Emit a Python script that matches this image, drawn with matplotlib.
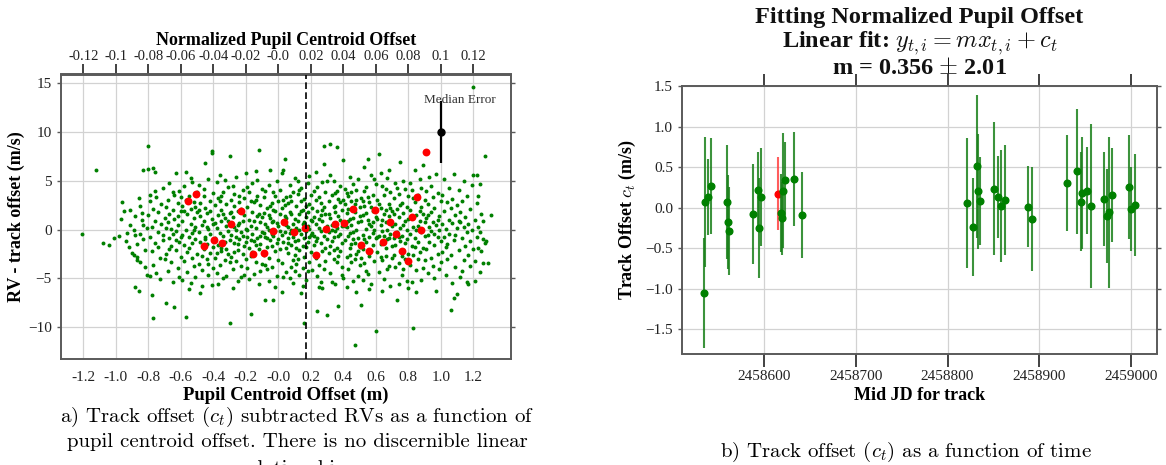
import matplotlib
matplotlib.use("Agg")
import matplotlib.pyplot as plt
from matplotlib.ticker import FormatStrFormatter

plt.rcParams['font.family'] = ['Liberation Serif', 'DejaVu Serif']
plt.rcParams['mathtext.fontset'] = 'cm'

# ---------------- panel a data ----------------
green_pts = [
    (-1.21, -0.45), (-1.12, 6.1), (-1.08, -1.4), (-1.04, -1.6), (-1.01, -0.9),
    (-0.98, -0.6), (-0.96, 2.8), (-0.95, 1.9), (-0.94, -1.2), (-0.93, -0.3), (-0.92, -1.8), (-0.91, 2.0),
    (-0.91, 0.5), (-0.97, 1.1), (-0.9, -2.4),
    (-0.89, 0.0), (-0.88, -0.5), (-0.88, -5.9), (-0.86, -6.3), (-0.89, -2.6), (-0.87, -2.8), (-0.87, -3.1),
    (-0.85, -3.3), (-0.85, 2.4), (-0.84, 1.7), (-0.84, 1.0), (-0.83, 0.5), (-0.83, -1.0), (-0.83, 6.1),
    (-0.82, -2.1), (-0.82, -3.8), (-0.81, -4.6), (-0.86, 3.2), (-0.88, 1.4), (-0.85, -0.4), (-0.81, 0.2),
    (-0.87, -1.5),
    (-0.8, 8.6), (-0.8, 6.2), (-0.79, 3.6), (-0.79, 2.9), (-0.78, -6.7), (-0.77, -9.1), (-0.77, 6.3),
    (-0.76, 5.9), (-0.8, 1.5), (-0.79, -0.8), (-0.78, 0.3), (-0.78, -2.2), (-0.77, 2.1), (-0.77, -3.6),
    (-0.76, -1.4), (-0.76, 0.9), (-0.75, -4.4), (-0.75, 3.3), (-0.74, -0.2), (-0.74, 1.8), (-0.73, -2.9),
    (-0.73, -5.1), (-0.72, 0.6), (-0.72, 2.6), (-0.71, -1.1), (-0.71, 4.3), (-0.7, -3.0), (-0.7, 1.2),
    (-0.79, -4.7), (-0.74, -1.8), (-0.76, 4.0), (-0.71, -0.5),
    (-0.69, -7.5), (-0.69, 2.3), (-0.69, -2.5), (-0.68, 0.8), (-0.68, 3.0), (-0.68, -4.2), (-0.67, -0.9),
    (-0.67, 1.6), (-0.67, 4.8), (-0.66, -1.7), (-0.66, 0.1), (-0.66, -3.3), (-0.65, 2.0), (-0.65, -5.4),
    (-0.65, -0.4), (-0.64, -7.9), (-0.64, 3.6), (-0.64, 1.1), (-0.63, 5.8), (-0.63, -2.1), (-0.63, -0.1),
    (-0.62, 2.7), (-0.62, -3.9), (-0.62, 0.5), (-0.61, -1.3), (-0.61, 4.0), (-0.61, -4.8), (-0.6, 1.9),
    (-0.6, -0.7), (-0.6, -2.8), (-0.69, 0.2), (-0.67, -2.0), (-0.65, 3.9), (-0.63, -1.1), (-0.62, 1.4),
    (-0.6, 3.3),
    (-0.59, -5.2), (-0.59, 0.9), (-0.59, 2.4), (-0.58, -1.6), (-0.58, 4.5), (-0.58, -3.2), (-0.57, -8.9),
    (-0.57, 5.9), (-0.57, 0.0), (-0.56, -2.3), (-0.56, 1.6), (-0.56, -4.3), (-0.55, 3.4), (-0.55, -0.8),
    (-0.55, -1.9), (-0.54, 2.1), (-0.54, -5.5), (-0.54, 0.6), (-0.53, -2.9), (-0.53, 4.9), (-0.53, -0.3),
    (-0.52, 1.2), (-0.52, -3.7), (-0.52, 2.8), (-0.51, -1.0), (-0.51, 0.3), (-0.51, -4.9), (-0.5, 3.9),
    (-0.5, -2.5), (-0.5, 1.8), (-0.59, -0.5), (-0.57, 3.0), (-0.55, -6.1), (-0.54, 5.3), (-0.53, -1.4),
    (-0.52, 0.0), (-0.51, 2.3), (-0.58, 1.9),
    (-0.49, -0.2), (-0.49, 4.6), (-0.49, -3.5), (-0.48, 1.4), (-0.48, -1.3), (-0.48, 2.7), (-0.47, -4.1),
    (-0.47, 0.5), (-0.47, -5.8), (-0.46, 3.5), (-0.46, -2.0), (-0.46, 0.9), (-0.45, 6.8), (-0.45, -0.7),
    (-0.45, 2.2), (-0.44, -3.0), (-0.44, 1.7), (-0.44, -1.5), (-0.43, 5.2), (-0.43, -4.6), (-0.43, 0.1),
    (-0.42, 2.9), (-0.42, -2.4), (-0.42, -0.4), (-0.41, 8.1), (-0.41, 7.9), (-0.41, 1.1), (-0.41, -5.7),
    (-0.4, 3.8), (-0.4, -1.8), (-0.4, 0.6), (-0.49, 2.0), (-0.47, -2.7), (-0.46, 4.2), (-0.44, 0.3),
    (-0.43, -3.5), (-0.42, 1.9), (-0.4, -3.9), (-0.48, -6.5), (-0.45, -1.0),
    (-0.39, 2.5), (-0.39, -0.9), (-0.39, -2.9), (-0.38, 4.9), (-0.38, 0.2), (-0.38, -4.4), (-0.37, 1.5),
    (-0.37, -1.6), (-0.37, 3.2), (-0.36, -0.3), (-0.36, -3.6), (-0.36, 5.6), (-0.35, 0.9), (-0.35, -2.2),
    (-0.35, 2.0), (-0.34, -5.0), (-0.34, -0.6), (-0.34, 3.9), (-0.33, 1.2), (-0.33, -1.3), (-0.33, -3.1),
    (-0.32, 0.4), (-0.32, 2.6), (-0.32, -4.7), (-0.31, -0.1), (-0.31, 4.4), (-0.31, -2.5), (-0.3, 7.5),
    (-0.3, 1.7), (-0.3, -9.6), (-0.3, -1.1), (-0.39, 0.7), (-0.37, -5.6), (-0.36, 2.9), (-0.35, -1.9),
    (-0.34, 1.6), (-0.33, 5.1), (-0.32, -2.0), (-0.31, 0.9), (-0.38, -2.4), (-0.35, 3.5), (-0.3, -3.3),
    (-0.29, 3.0), (-0.29, -0.5), (-0.29, -2.8), (-0.28, 1.3), (-0.28, -4.0), (-0.28, 4.5), (-0.27, -1.4),
    (-0.27, 0.3), (-0.27, 2.4), (-0.26, -3.2), (-0.26, -0.8), (-0.26, 5.4), (-0.25, 1.9), (-0.25, -2.1),
    (-0.25, -5.3), (-0.24, 0.7), (-0.24, 3.5), (-0.24, -1.0), (-0.23, -3.7), (-0.23, 2.1), (-0.23, -0.2),
    (-0.22, 4.1), (-0.22, -2.5), (-0.22, 0.9), (-0.21, -4.6), (-0.21, 1.5), (-0.21, -1.7), (-0.2, 5.8),
    (-0.2, 0.1), (-0.2, -3.0), (-0.29, 1.8), (-0.28, -6.0), (-0.27, 3.7), (-0.26, 0.0), (-0.25, -1.5),
    (-0.24, 2.8), (-0.23, -4.9), (-0.22, -0.6), (-0.21, 3.2), (-0.27, -2.3), (-0.25, 0.5), (-0.2, -1.3),
    (-0.19, 2.3), (-0.19, -0.7), (-0.19, -3.9), (-0.18, 1.0), (-0.18, 3.9), (-0.18, -1.9), (-0.17, -8.6),
    (-0.17, 0.4), (-0.17, -2.7), (-0.16, 4.8), (-0.16, -0.4), (-0.16, 1.8), (-0.15, -4.5), (-0.15, 2.8),
    (-0.15, -1.2), (-0.14, 6.0), (-0.14, 0.2), (-0.14, -3.3), (-0.13, 1.4), (-0.13, -0.9), (-0.13, 3.4),
    (-0.12, 8.2), (-0.12, -2.0), (-0.12, -5.6), (-0.11, 0.8), (-0.11, 2.5), (-0.11, -1.5), (-0.1, 4.2),
    (-0.1, -0.2), (-0.1, -3.5), (-0.19, 0.0), (-0.18, -5.1), (-0.17, 2.9), (-0.16, -2.3), (-0.15, 0.9),
    (-0.14, -1.6), (-0.13, 5.1), (-0.12, 1.6), (-0.11, -4.2), (-0.1, 1.3), (-0.17, -1.1), (-0.14, 3.0),
    (-0.11, -0.6), (-0.19, 4.4),
    (-0.09, -2.6), (-0.09, 1.7), (-0.09, 3.3), (-0.08, -7.2), (-0.08, -0.8), (-0.08, 0.6), (-0.07, 2.2),
    (-0.07, -1.8), (-0.07, -4.0), (-0.06, 4.6), (-0.06, 0.0), (-0.06, -2.9), (-0.05, 6.1), (-0.05, 1.2),
    (-0.05, -1.1), (-0.04, -3.8), (-0.04, 2.7), (-0.04, -0.4), (-0.03, -7.2), (-0.03, 0.9), (-0.03, 3.9),
    (-0.02, -2.2), (-0.02, -0.1), (-0.02, 1.9), (-0.01, -4.7), (-0.01, 5.0), (-0.01, -1.4), (0.0, 0.4),
    (0.0, 2.9), (0.0, -3.1), (-0.09, -0.3), (-0.08, 4.0), (-0.07, 0.3), (-0.06, -5.3), (-0.05, 2.4),
    (-0.04, -1.7), (-0.03, -0.6), (-0.02, 3.5), (-0.01, 0.7), (0.0, -1.0), (-0.08, -3.6), (-0.06, 1.5),
    (-0.04, 0.8), (-0.02, -5.9), (-0.07, -0.9), (-0.03, 2.0),
    (0.01, -2.0), (0.01, 1.6), (0.01, 4.1), (0.02, 5.8), (0.02, -0.5), (0.02, -3.4), (0.03, 6.1),
    (0.03, 0.9), (0.03, -1.3), (0.04, 7.2), (0.04, 2.5), (0.04, -0.2), (0.05, -4.3), (0.05, 1.2),
    (0.05, 3.3), (0.06, -2.4), (0.06, 0.3), (0.06, -0.9), (0.07, 4.6), (0.07, -5.0), (0.07, 1.8),
    (0.08, -1.6), (0.08, 2.9), (0.08, 0.0), (0.09, -3.1), (0.09, 3.9), (0.09, -0.7), (0.1, 1.1),
    (0.1, -2.6), (0.1, 5.3), (0.01, -0.1), (0.02, 2.2), (0.03, -4.9), (0.04, 1.4), (0.05, -1.9),
    (0.06, 2.7), (0.07, -0.3), (0.08, -3.8), (0.09, 0.6), (0.1, -1.2), (0.02, -6.4), (0.05, 0.5),
    (0.07, 3.5), (0.09, -5.5), (0.03, 3.0), (0.06, -1.4), (0.08, 1.6), (0.1, -4.2),
    (0.11, 0.2), (0.11, 2.4), (0.11, -3.5), (0.12, -1.1), (0.12, 3.7), (0.12, 0.9), (0.13, -2.1),
    (0.13, 1.6), (0.13, -4.6), (0.14, 4.3), (0.14, -0.4), (0.14, -6.5), (0.15, 2.0), (0.15, -1.7),
    (0.15, 0.6), (0.16, -9.6), (0.16, 3.1), (0.16, -2.8), (0.17, -0.1), (0.17, 1.3), (0.17, -5.2),
    (0.18, 4.8), (0.18, -1.3), (0.18, 0.4), (0.19, -3.3), (0.19, 2.6), (0.19, -0.8), (0.2, 1.0),
    (0.2, -2.3), (0.2, 3.6), (0.11, -1.9), (0.12, 5.0), (0.13, 0.0), (0.14, 1.9), (0.15, -3.9),
    (0.16, 0.8), (0.17, 2.4), (0.18, -4.2), (0.19, 0.1), (0.2, -0.5), (0.12, -3.0), (0.14, 2.9),
    (0.16, -0.9), (0.18, 1.8), (0.13, 4.1), (0.15, -5.8), (0.17, -1.8), (0.19, 5.5),
    (0.21, -0.3), (0.21, 2.2), (0.21, -4.1), (0.22, 1.3), (0.22, -1.6), (0.22, 4.0), (0.23, -2.9),
    (0.23, 0.6), (0.23, 5.9), (0.24, -8.3), (0.24, 1.9), (0.24, -0.9), (0.25, 3.3), (0.25, -3.6),
    (0.25, 0.2), (0.26, -1.4), (0.26, 2.7), (0.26, -5.4), (0.27, 4.9), (0.27, 0.9), (0.27, -2.2),
    (0.28, 8.6), (0.28, 6.7), (0.28, -0.6), (0.29, 1.6), (0.29, -3.2), (0.29, 3.9), (0.3, -8.7),
    (0.3, -1.0), (0.3, 0.4), (0.21, 0.9), (0.22, -2.6), (0.23, 3.0), (0.24, -4.7), (0.25, 1.1),
    (0.26, -0.1), (0.27, -6.0), (0.28, 2.3), (0.29, -1.9), (0.3, 5.0), (0.22, -0.6), (0.24, 4.4),
    (0.26, 1.5), (0.28, -4.0), (0.23, -1.2), (0.25, -5.9), (0.27, 2.0), (0.29, 0.0),
    (0.31, 2.9), (0.31, -2.4), (0.31, -0.2), (0.32, 8.8), (0.32, 1.2), (0.32, -4.4), (0.33, -1.2),
    (0.33, 3.6), (0.33, 0.5), (0.34, -3.0), (0.34, 5.0), (0.34, -0.8), (0.35, 1.8), (0.35, -5.6),
    (0.35, 2.4), (0.36, 8.5), (0.36, -1.9), (0.36, 0.2), (0.37, -7.8), (0.37, 3.1), (0.37, -2.7),
    (0.38, 1.0), (0.38, -0.4), (0.38, 4.5), (0.39, -3.8), (0.39, 2.0), (0.39, -1.4), (0.4, 7.1),
    (0.4, 0.7), (0.4, -5.0), (0.31, 1.6), (0.32, -1.7), (0.33, -5.4), (0.34, 2.3), (0.35, -0.1),
    (0.36, 4.0), (0.37, 1.4), (0.38, -2.2), (0.39, 0.4), (0.4, 3.0), (0.32, 5.6), (0.34, -2.1),
    (0.36, -3.3), (0.38, 2.8), (0.33, 0.0), (0.35, 3.8), (0.37, -0.6), (0.39, -4.6),
    (0.41, -1.1), (0.41, 2.6), (0.41, 4.2), (0.42, -2.8), (0.42, 0.3), (0.42, 1.7), (0.43, -0.6),
    (0.43, 3.4), (0.43, -4.0), (0.44, 1.1), (0.44, -1.9), (0.44, 5.4), (0.45, -3.3), (0.45, 0.5),
    (0.45, 2.9), (0.46, -0.2), (0.46, 4.7), (0.46, -5.3), (0.47, -11.8), (0.47, 1.8), (0.47, -1.4),
    (0.48, 3.0), (0.48, -2.5), (0.48, 0.0), (0.49, 5.2), (0.49, -0.9), (0.49, -4.7), (0.5, 1.4),
    (0.5, -1.8), (0.5, 2.3), (0.41, 0.4), (0.42, -5.9), (0.43, 2.1), (0.44, -0.3), (0.45, 3.9),
    (0.46, 1.2), (0.47, -3.0), (0.48, 4.1), (0.49, 0.8), (0.5, -3.6), (0.42, 3.8), (0.44, -2.6),
    (0.46, -1.0), (0.48, -6.4), (0.43, 0.9), (0.45, -1.5), (0.47, 2.6), (0.49, -2.2),
    (0.51, -7.7), (0.51, 0.9), (0.51, 3.2), (0.52, -2.0), (0.52, 1.5), (0.52, -0.5), (0.53, 6.4),
    (0.53, -3.4), (0.53, 2.4), (0.54, 0.1), (0.54, 4.4), (0.54, -1.3), (0.55, 7.2), (0.55, -4.5),
    (0.55, 1.0), (0.56, -0.8), (0.56, 2.8), (0.56, -2.7), (0.57, 5.6), (0.57, 0.4), (0.57, -5.6),
    (0.58, 1.9), (0.58, -1.6), (0.58, 3.6), (0.59, -3.2), (0.59, 0.0), (0.59, 2.1), (0.6, -10.4),
    (0.6, -0.9), (0.6, 4.7), (0.51, -2.9), (0.52, 2.9), (0.53, -1.0), (0.54, -4.2), (0.55, 3.3),
    (0.56, 0.6), (0.57, -2.2), (0.58, -0.3), (0.59, 5.2), (0.6, 1.3), (0.52, -5.2), (0.54, 1.7),
    (0.56, -6.1), (0.58, 0.8), (0.53, 4.0), (0.57, 2.3),
    (0.61, -2.3), (0.61, 1.1), (0.61, 3.0), (0.62, 7.8), (0.62, -0.6), (0.62, -4.3), (0.63, 2.2),
    (0.63, -1.5), (0.63, 0.5), (0.64, 4.5), (0.64, -3.1), (0.64, -0.1), (0.65, 1.6), (0.65, -5.1),
    (0.65, 3.6), (0.66, -1.9), (0.66, 0.8), (0.66, -2.7), (0.67, 5.3), (0.67, 0.0), (0.67, -1.0),
    (0.68, 2.6), (0.68, -3.7), (0.68, 1.4), (0.69, -0.4), (0.69, 3.9), (0.69, -5.8), (0.7, 1.9),
    (0.7, -1.7), (0.7, 0.4), (0.61, -0.8), (0.62, 2.6), (0.63, -2.8), (0.64, 1.0), (0.65, -0.6),
    (0.66, 4.2), (0.67, -4.0), (0.68, -0.9), (0.69, 2.2), (0.7, -2.9), (0.63, 5.8), (0.66, 2.0),
    (0.68, 6.1), (0.64, -6.3),
    (0.71, 3.2), (0.71, -0.9), (0.71, -2.6), (0.72, 0.6), (0.72, 4.8), (0.72, -1.6), (0.73, -7.2),
    (0.73, 2.1), (0.73, -0.2), (0.74, -3.4), (0.74, 1.3), (0.74, 3.7), (0.75, 6.9), (0.75, -1.2),
    (0.75, 0.2), (0.76, -4.6), (0.76, 2.7), (0.76, -0.6), (0.77, 1.7), (0.77, -2.1), (0.77, 5.0),
    (0.78, -3.0), (0.78, 0.9), (0.78, -1.4), (0.79, 2.3), (0.79, -5.3), (0.79, 0.0), (0.8, 3.5),
    (0.8, -2.5), (0.8, 1.1), (0.71, 1.6), (0.72, -3.8), (0.73, 4.3), (0.74, -0.8), (0.75, 2.5),
    (0.76, -2.7), (0.77, 0.5), (0.78, 4.2), (0.79, -1.0), (0.8, -6.0), (0.74, -5.6), (0.77, -4.0),
    (0.81, -0.4), (0.81, 2.0), (0.81, -3.6), (0.82, 1.2), (0.82, -1.7), (0.82, 4.1), (0.83, -10.1),
    (0.83, 0.3), (0.83, -2.6), (0.84, 6.1), (0.84, -0.9), (0.84, 2.8), (0.85, -6.4), (0.85, 1.5),
    (0.85, -4.1), (0.86, 3.6), (0.86, -1.3), (0.86, 0.4), (0.87, -2.3), (0.87, 5.2), (0.87, 0.9),
    (0.88, -0.2), (0.88, 2.3), (0.88, -5.2), (0.89, 6.6), (0.89, 1.6), (0.89, -1.9), (0.9, -0.6),
    (0.9, 3.0), (0.9, -3.1), (0.81, 4.8), (0.82, -5.4), (0.83, 3.2), (0.84, -1.8), (0.85, 0.0),
    (0.86, -3.0), (0.87, 1.9), (0.88, 4.3), (0.89, -3.9), (0.9, 0.8),
    (0.91, 1.2), (0.91, -2.0), (0.91, 4.0), (0.92, -0.5), (0.92, 2.6), (0.92, -4.4), (0.93, 0.3),
    (0.93, -1.3), (0.93, 5.4), (0.94, -2.9), (0.94, 1.8), (0.94, -0.1), (0.95, 3.3), (0.95, -3.7),
    (0.95, 0.8), (0.96, -1.6), (0.96, 2.2), (0.96, -5.0), (0.97, 5.7), (0.97, -6.3), (0.97, 0.5),
    (0.98, -0.8), (0.98, 3.8), (0.98, -2.5), (0.99, 1.4), (0.99, -4.0), (0.99, 0.0), (1.0, 2.9),
    (1.0, -1.2), (1.0, -3.3), (0.92, 1.5), (0.94, 4.5), (0.96, -0.4), (0.98, 1.0),
    (1.01, 0.6), (1.01, -2.3), (1.01, 3.6), (1.02, 5.2), (1.02, -0.7), (1.02, 1.9), (1.03, -4.6),
    (1.03, 0.1), (1.04, 2.8), (1.04, -1.5), (1.04, -3.0), (1.05, 1.0), (1.05, 4.3), (1.05, -0.4),
    (1.06, -8.2), (1.06, 2.2), (1.06, -2.6), (1.07, 0.7), (1.07, -5.5), (1.07, 3.1), (1.08, -7.0),
    (1.08, 5.7), (1.08, -1.1), (1.09, 1.5), (1.09, -3.8), (1.1, 0.2), (1.1, -6.6), (1.1, 2.5),
    (1.03, -1.8), (1.09, -0.5),
    (1.11, 0.9), (1.11, -2.1), (1.11, 4.1), (1.12, 0.8), (1.12, -4.9), (1.12, 1.8), (1.13, -0.9),
    (1.13, 2.9), (1.14, -3.1), (1.14, 0.3), (1.14, 5.0), (1.15, -1.7), (1.15, 1.3), (1.16, -5.4),
    (1.16, -0.2), (1.16, 3.5), (1.17, -2.6), (1.17, 0.6), (1.18, 2.1), (1.18, -3.7), (1.18, -1.2),
    (1.19, 4.6), (1.19, 0.0), (1.2, 5.6), (1.2, -2.0), (1.2, 14.6), (1.13, -4.2), (1.17, -5.6),
    (1.21, 1.0), (1.21, -3.2), (1.21, -5.3), (1.22, 5.6), (1.22, -0.8), (1.22, 2.7), (1.23, 3.5),
    (1.23, -1.9), (1.23, 0.3), (1.24, 4.7), (1.24, -4.3), (1.24, -0.2), (1.25, -2.2), (1.25, 1.6),
    (1.26, 0.9), (1.26, -1.0), (1.26, -3.4), (1.27, 7.6), (1.27, -1.4), (1.28, -1.2), (1.29, -3.4),
    (1.31, 1.5),
]

red_x = [-0.507, -0.555, -0.227, -0.288, 0.036, -0.031, 0.099, 0.165, 0.293, 0.351, 0.407, 0.46,
         0.597, 0.69, 0.825, 0.852, 0.909, 0.725, 0.881,
         -0.455, -0.398, -0.346, -0.156, -0.089, 0.234, 0.51, 0.558, 0.643, 0.762, 0.798]
red_y = [3.65, 2.9, 1.88, 0.55, 0.82, -0.1, -0.27, 0.14, 0.1, 0.61, 0.72, 2.15,
         2.01, 0.75, 1.26, 3.38, 7.99, -0.44, 0.0,
         -1.67, -1.06, -1.37, -2.49, -2.42, -2.56, -1.57, -2.18, -1.3, -2.15, -3.17]

median_x = [1.0]
median_y = [10.0]
median_err = [3.2]
median_label = 'Median Error'
split_x = 0.17

bottom_ticks = [-1.2, -1.0, -0.8, -0.6, -0.4, -0.2, 0.0, 0.2, 0.4, 0.6, 0.8, 1.0, 1.2]
bottom_labels = ['-1.2', '-1.0', '-0.8', '-0.6', '-0.4', '-0.2', '-0.0', '0.2', '0.4', '0.6',
                 '0.8', '1.0', '1.2']
top_ticks = [-0.12, -0.10, -0.08, -0.06, -0.04, -0.02, 0.0, 0.02, 0.04, 0.06, 0.08, 0.10, 0.12]
top_labels = ['-0.12', '-0.1', '-0.08', '-0.06', '-0.04', '-0.02', '-0.0', '0.02', '0.04', '0.06',
              '0.08', '0.1', '0.12']
a_yticks = [-10, -5, 0, 5, 10, 15]

# ---------------- panel b data ----------------
track_jd = [2458534.3, 2458536.0, 2458538.6, 2458541.9,
            2458560.0, 2458561.1, 2458562.2,
            2458587.7, 2458593.1, 2458594.5, 2458596.7,
            2458614.9,
            2458618.2, 2458619.8, 2458621.0, 2458622.9, 2458633.0, 2458641.4,
            2458821.3, 2458828.1, 2458832.5, 2458833.6, 2458835.8, 2458850.4, 2458855.4, 2458858.3,
            2458862.7,
            2458887.7, 2458892.4, 2458930.2, 2458941.1, 2458945.1, 2458946.9, 2458952.4, 2458956.4,
            2458970.2, 2458973.5, 2458976.3, 2458978.9, 2458997.3, 2459000.4, 2459004.0]
track_c = [-1.05, 0.07, 0.13, 0.27,
           0.07, -0.18, -0.29,
           -0.08, 0.22, -0.25, 0.13,
           0.17,
           -0.07, -0.13, 0.21, 0.34, 0.35, -0.09,
           0.06, -0.24, 0.51, 0.20, 0.08, 0.23, 0.13, 0.02,
           0.09,
           0.01, -0.14, 0.30, 0.45, 0.07, 0.18, 0.21, 0.02,
           0.10, -0.10, -0.06, 0.15, 0.25, -0.02, 0.03]
track_err = [0.68, 0.80, 0.47, 0.59,
             0.70, 0.58, 0.54,
             0.62, 0.47, 0.62, 0.60,
             0.45,
             0.48, 0.45, 0.71, 0.47, 0.58, 0.53,
             0.80, 0.60, 0.88, 0.71, 0.54, 0.82, 0.51, 0.69,
             0.68,
             0.50, 0.64, 0.59, 0.77, 0.61, 0.69, 0.54, 1.01,
             0.58, 0.58, 0.93, 0.58, 0.64, 0.52, 0.63]
red_track = 11
b_xticks = [2458600, 2458700, 2458800, 2458900, 2459000]
b_yticks = [-1.5, -1.0, -0.5, 0.0, 0.5, 1.0, 1.5]

# ---------------- figure ----------------
W, H = 1166, 465
fig = plt.figure(figsize=(W / 100, H / 100), dpi=100)
fig.patch.set_facecolor('white')

spine_c = '#5a5a5a'
grid_c = '#d2d2d2'
txt_c = '#222222'

# ---- panel a ----
axA = fig.add_axes([61 / W, 1 - 358.5 / H, 450 / W, 284 / H])
gx = [p[0] for p in green_pts]
gy = [p[1] for p in green_pts]
axA.scatter(gx, gy, s=8, color='green', linewidths=0, zorder=3)
axA.scatter(red_x, red_y, s=32, color='red', linewidths=0, zorder=4)
axA.errorbar(median_x, median_y, yerr=median_err, fmt='o', color='black', ms=5,
             elinewidth=1.6, capsize=0, zorder=6)
axA.text(1.12, 13.3, median_label, ha='center', va='center', fontsize=9.5, color='#333333', zorder=6)
axA.axvline(split_x, color='black', ls=(0, (4, 2)), lw=1.2, zorder=5)
axA.set_xlim(-1.337, 1.432)
axA.set_ylim(-13.2, 15.9)
axA.set_xticks(bottom_ticks, bottom_labels)
axA.set_yticks(a_yticks)
axA.grid(True, color=grid_c, lw=0.9)
axA.set_axisbelow(True)
for sp in axA.spines.values():
    sp.set_color(spine_c)
    sp.set_linewidth(1.4)
axA.tick_params(axis='x', length=0, labelsize=11, pad=9, labelcolor=txt_c)
axA.tick_params(axis='y', left=True, right=True, direction='out', length=3, width=1,
                color=spine_c, labelsize=11, labelcolor=txt_c)
axA.set_xlabel('Pupil Centroid Offset (m)', fontsize=13.5, fontweight='bold', labelpad=2)
axA.set_ylabel('RV - track offset (m/s)', fontsize=13, fontweight='bold', labelpad=2)

sec = axA.secondary_xaxis('top', functions=(lambda v: v / 10.0, lambda v: v * 10.0))
sec.set_xticks(top_ticks, top_labels)
sec.tick_params(axis='x', direction='out', length=7, width=1.3, color='#333333',
                labelsize=10.5, pad=1, labelcolor=txt_c)
sec.spines['top'].set_color(spine_c)
sec.spines['top'].set_linewidth(1.4)
sec.set_xlabel('Normalized Pupil Centroid Offset', fontsize=13, fontweight='bold', labelpad=4)

# ---- panel b ----
axB = fig.add_axes([682 / W, 1 - 353.5 / H, 475 / W, 267.5 / H])
g_idx = [i for i in range(len(track_jd)) if i != red_track]
axB.errorbar([track_jd[i] for i in g_idx], [track_c[i] for i in g_idx],
             yerr=[track_err[i] for i in g_idx], fmt='o', color='green', ms=4.8,
             ecolor=(0.1, 0.5, 0.1, 0.85), elinewidth=1.5, capsize=0, zorder=3)
axB.errorbar([track_jd[red_track]], [track_c[red_track]], yerr=[track_err[red_track]], fmt='o',
             color='red', ms=4.8, ecolor=(1.0, 0.25, 0.25, 0.85), elinewidth=1.5, capsize=0, zorder=2)
axB.set_xlim(2458510.6, 2459028.3)
axB.set_ylim(-1.8, 1.5)
axB.set_xticks(b_xticks)
axB.xaxis.set_major_formatter(FormatStrFormatter('%d'))
axB.set_yticks(b_yticks)
axB.grid(True, color=grid_c, lw=0.9)
axB.set_axisbelow(True)
for sp in axB.spines.values():
    sp.set_color(spine_c)
    sp.set_linewidth(1.4)
axB.tick_params(axis='x', top=True, bottom=True, direction='out', length=9, width=1.3,
                color='#333333', labelsize=11, labelcolor=txt_c, pad=3)
axB.tick_params(axis='y', left=True, right=True, direction='out', length=3, width=1,
                color=spine_c, labelsize=11, labelcolor=txt_c)
axB.set_xlabel('Mid JD for track', fontsize=13, fontweight='bold', labelpad=3)
axB.set_ylabel('Track Offset $c_t$ (m/s)', fontsize=13, fontweight='bold', labelpad=5)

cx = (682 + 1157) / 2 / W
title_kw = dict(ha='center', va='center', fontsize=17.5, fontweight='bold', color='#111111')
fig.text(cx, 1 - 17 / H, 'Fitting Normalized Pupil Offset', **title_kw)
fig.text(cx, 1 - 43 / H, r'Linear fit: $y_{t,i} = mx_{t,i} + c_t$', **title_kw)
fig.text(cx, 1 - 68 / H, r'm = 0.356 $\pm$ 2.01', **title_kw)

# ---- captions ----
cap_kw = dict(ha='center', va='center', fontsize=15, family='cmr10', color='black')
fig.text(297 / W, 1 - 417 / H, r'a) Track offset ($c_t$) subtracted RVs as a function of', **cap_kw)
fig.text(297 / W, 1 - 442 / H, 'pupil centroid offset. There is no discernible linear', **cap_kw)
fig.text(297 / W, 1 - 469 / H, 'relationship.', **cap_kw)
fig.text(906 / W, 1 - 452 / H, r'b) Track offset ($c_t$) as a function of time', **cap_kw)

fig.savefig('out.png', dpi=100, facecolor='white')
